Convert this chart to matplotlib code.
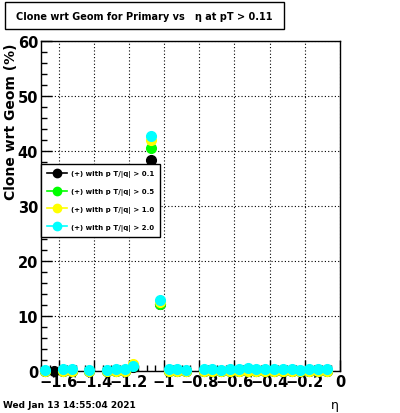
import matplotlib
matplotlib.use("Agg")
import matplotlib.pyplot as plt
from matplotlib.ticker import MultipleLocator
import numpy as np

plt.rcParams['font.family'] = ['DejaVu Sans']

eta_common = [-1.675, -1.575, -1.525, -1.425, -1.325, -1.275, -1.225, -1.175,
              -1.075, -1.025, -0.975, -0.925, -0.875, -0.775, -0.725, -0.675,
              -0.625, -0.575, -0.525, -0.475, -0.425, -0.375, -0.325, -0.275,
              -0.225, -0.175, -0.125, -0.075]
eta_black = [-1.675, -1.625] + eta_common[1:]

black_vals = [0, 0, 0, 0, 0, 0, 0, 0, 0.8, 38.3, 12.1, 0, 0, 0, 0, 0, 0,
              0, 0, 0, 0, 0, 0, 0, 0, 0, 0, 0, 0]
green_vals = [0, 0, 0, 0, 0, 0, 0, 0.9, 40.5, 12.2, 0, 0, 0, 0, 0, 0,
              0, 0, 0, 0, 0, 0, 0, 0, 0, 0, 0, 0]
yellow_vals = [0, 0, 0, 0, 0, 0, 0, 1.2, 42.0, 12.5, 0, 0, 0, 0, 0, 0,
               0, 0, 0, 0, 0, 0, 0, 0, 0, 0, 0, 0]
cyan_vals = [0.2, 0.3, 0.3, 0.2, 0.2, 0.3, 0.4, 1.0, 42.8, 12.9, 0.3, 0.3, 0.1, 0.3, 0.3, 0.2,
             0.4, 0.4, 0.6, 0.4, 0.4, 0.4, 0.3, 0.4, 0.2, 0.3, 0.4, 0.4]

labels = ["(+) with p T/|q| > 0.1", "(+) with p T/|q| > 0.5",
          "(+) with p T/|q| > 1.0", "(+) with p T/|q| > 2.0"]
colors = ["#000000", "#00ff00", "#ffff00", "#00ffff"]
xtick_vals = [-1.6, -1.4, -1.2, -1.0, -0.8, -0.6, -0.4, -0.2, 0.0]
xtick_labels = ["\u22121.6", "\u22121.4", "\u22121.2", "\u22121", "\u22120.8",
                "\u22120.6", "\u22120.4", "\u22120.2", "0"]
ytick_vals = [0, 10, 20, 30, 40, 50, 60]

W, H = 400, 414
fig = plt.figure(figsize=(W/100, H/100), dpi=100)
ax = fig.add_axes([41/W, 1-372/H, (340-41)/W, (372-42)/H])

series = [(eta_black, black_vals), (eta_common, green_vals),
          (eta_common, yellow_vals), (eta_common, cyan_vals)]
for (x, y), c, lab in zip(series, colors, labels):
    ax.plot(x, y, 'o', color=c, markersize=7, linestyle='none',
            clip_on=False, zorder=3)

ax.set_xlim(-1.7, 0)
ax.set_ylim(0, 60)
ax.set_xticks(xtick_vals)
ax.set_xticklabels(xtick_labels, fontweight='bold')
ax.set_yticks(ytick_vals)
ax.set_yticklabels([str(v) for v in ytick_vals], fontweight='bold')
ax.xaxis.set_minor_locator(MultipleLocator(0.05))
ax.yaxis.set_minor_locator(MultipleLocator(2))
ax.grid(True, which='major', linestyle=(0, (1, 2)), color='black', linewidth=0.8)
ax.tick_params(which='both', direction='in', top=False, right=False, width=1)
ax.tick_params(which='major', length=8, labelsize=10.5, pad=2)
ax.tick_params(which='minor', length=4)
for s in ax.spines.values():
    s.set_linewidth(1)

fig.text(11/W, 1-122/H, "Clone wrt Geom (%)", rotation=90, ha='center', va='center',
         fontsize=10, fontweight='bold')
fig.text(335/W, 1-406/H, "\u03b7", ha='center', va='center', fontsize=9)
fig.text(3/W, 1-406/H, "Wed Jan 13 14:55:04 2021", ha='left', va='center',
         fontsize=6.5, fontweight='bold')

# title box
fig.patches.append(plt.Rectangle((5/W, 1-30/H), 279/W, 27/H, transform=fig.transFigure,
                                 fill=True, facecolor='white', edgecolor='black', linewidth=1))
fig.text(144/W, 1-17/H, "Clone wrt Geom for Primary vs   \u03b7 at pT > 0.11",
         ha='center', va='center', fontsize=7, fontweight='bold')

# legend
leg_handles = []
for c in colors:
    h, = ax.plot([], [], 'o-', color=c, markersize=6, linewidth=1.2)
    leg_handles.append(h)
lx0, lx1 = 41, 160
ly0, ly1 = 165, 247
leg = fig.legend(leg_handles, labels, loc='upper left',
                 bbox_to_anchor=(lx0/W, 1-ly1/H, (lx1-lx0)/W, (ly1-ly0)/H),
                 mode='expand', fancybox=False, edgecolor='black', framealpha=1,
                 prop={'size': 5, 'weight': 'bold'}, handlelength=2.8,
                 labelspacing=1.55, borderpad=0.9, handletextpad=0.6,
                 borderaxespad=0)
leg.get_frame().set_linewidth(1)

fig.savefig("out.png", dpi=100)
